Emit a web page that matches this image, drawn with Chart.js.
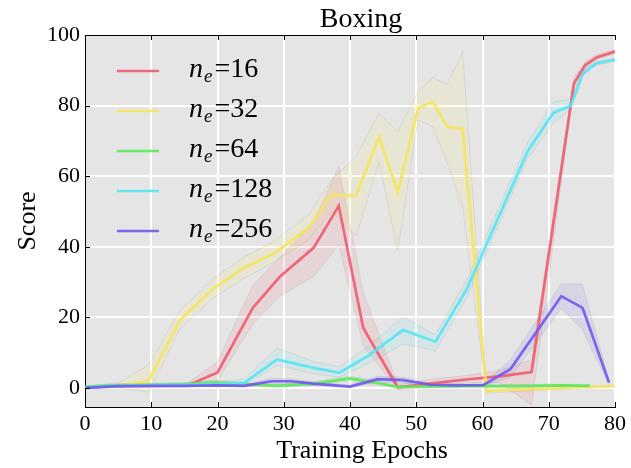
<!DOCTYPE html>
<html>
<head>
<meta charset="utf-8">
<script src="https://cdn.jsdelivr.net/npm/chart.js@4.4.0/dist/chart.umd.min.js"></script>
<style>
  html, body { margin: 0; padding: 0; background: #fff; }
  canvas { display: block; }
</style>
</head>
<body>
<canvas id="myChart" width="631" height="468"></canvas>
<script>
// n_e = 16
const epochs16 = [0, 5, 10, 15.5, 20, 25.3, 29.4, 34.5, 38.3, 42, 47.2, 52.4, 57.5, 62.5, 67.4, 73.8, 75.5, 77.3, 80];
const score16  = [0.2, 0.5, 0.6, 0.7, 4.4, 22.6, 31.5, 39.7, 51.6, 17, 0.2, 1.3, 2.4, 3.3, 4.5, 86.3, 91.5, 93.7, 95.3];
const low16    = [0, 0.2, 0.3, 0.2, 2.0, 18, 26, 31.5, 40.5, 12, -0.5, 0.5, 1.5, 1.5, -4.9, 85, 90.5, 93, 94.8];
const high16   = [0.5, 0.8, 0.9, 1.4, 7.5, 29, 37, 47, 62.7, 27, 1.0, 2.5, 3.5, 5, 8, 88, 92.5, 94.5, 95.8];

// n_e = 32
const epochs32 = [0, 5.1, 9.6, 14.4, 19.4, 23.9, 28.5, 33.7, 37.2, 40.9, 44.4, 47.2, 50.3, 52.5, 54.7, 57, 60.6, 65, 70, 75, 80];
const score32  = [0.2, 0.6, 2.0, 19.4, 28.2, 33.9, 38.1, 45.2, 54.7, 54.4, 71.2, 55.4, 79.3, 81.1, 74, 73.4, -0.9, -0.5, -0.2, 0.2, 0.5];
const low32    = [0, 0, -1.2, 17, 25.5, 31, 35.5, 42, 50, 43, 64, 39, 76, 74, 63.7, 51.3, -1.5, -1, -0.5, 0, 0.2];
const high32   = [0.5, 1.5, 6.5, 22, 31, 37, 41.5, 49, 59, 65.5, 77.8, 72.6, 84, 88, 86, 95.3, 0, 0, 0.2, 0.5, 0.8];

// n_e = 64
const epochs64 = [0, 5, 10, 15, 19.9, 23.9, 29, 34.5, 40, 44.1, 47.1, 52, 57, 62, 67, 72, 76.2];
const score64  = [0.3, 0.8, 0.9, 1.1, 1.6, 1.1, 0.6, 1.2, 2.7, 1.4, 0.3, 0.4, 0.5, 0.5, 0.6, 0.7, 0.6];
const low64    = [0, 0.4, 0.5, 0.6, 1.0, 0.6, 0.2, 0.7, 2.0, 0.8, 0, 0, 0.1, 0.1, 0.2, 0.3, 0.2];
const high64   = [0.6, 1.2, 1.3, 1.6, 2.2, 1.6, 1.0, 1.8, 3.4, 2.0, 0.7, 0.8, 0.9, 0.9, 1.0, 1.1, 1.0];

// n_e = 128
const epochs128 = [0, 5, 10, 15, 20, 24, 29, 34.5, 38.4, 42.9, 48, 52.9, 57.6, 66.8, 70.7, 73.3, 75.2, 77.2, 80];
const score128  = [0.2, 0.6, 0.8, 0.9, 1.0, 1.4, 8.1, 5.7, 4.3, 9.3, 16.4, 13.1, 27.9, 67, 78, 79.9, 89.2, 92, 93];
const low128    = [0, 0.3, 0.5, 0.5, 0.6, 0.8, 6.4, 4, 3, 7, 12.4, 10.5, 25.5, 65, 75, 79, 88.5, 91.5, 92.5];
const high128   = [0.5, 1, 1.2, 1.3, 1.5, 2.5, 11.3, 7.5, 6, 12, 20.1, 15, 30.5, 69.5, 81.1, 81.8, 90, 92.5, 93.5];

// n_e = 256
const epochs256 = [0, 5, 10, 15, 20, 24, 28.2, 31, 34.5, 40, 44.2, 48.1, 52.1, 56, 60.1, 64.2, 71.9, 75.1, 79.1];
const score256  = [0, 0.5, 0.6, 0.6, 0.7, 0.6, 1.9, 1.9, 1.2, 0.4, 2.5, 2.2, 0.9, 0.7, 0.8, 5.3, 26, 22.7, 1.5];
const low256    = [-0.3, 0.2, 0.3, 0.3, 0.4, 0.3, 1.0, 1.2, 0.7, 0, 1.6, 1.4, 0.5, 0.3, 0.4, 3, 22.5, 16.4, 1];
const high256   = [0.3, 0.8, 0.9, 0.9, 1.0, 0.9, 2.8, 2.6, 1.7, 0.8, 3.4, 3.0, 1.3, 1.1, 1.2, 8, 29.6, 29.3, 2];

const legendLabels = ['16', '32', '64', '128', '256'];
const xTicks = [0, 10, 20, 30, 40, 50, 60, 70, 80];
const yTicks = [0, 20, 40, 60, 80, 100];

const lineColors = ['rgba(240,90,110,0.9)', 'rgba(246,228,90,0.9)', 'rgba(90,234,90,0.9)', 'rgba(84,228,244,0.9)', 'rgba(112,88,240,0.9)'];
const bandColors = ['rgba(240,90,110,0.12)', 'rgba(246,228,90,0.12)', 'rgba(90,234,90,0.12)', 'rgba(84,228,244,0.12)', 'rgba(112,88,240,0.12)'];

const allSeries = [
  [epochs16, score16, low16, high16],
  [epochs32, score32, low32, high32],
  [epochs64, score64, low64, high64],
  [epochs128, score128, low128, high128],
  [epochs256, score256, low256, high256]
];

const SERIF = '"Liberation Serif", "DejaVu Serif", serif';

function pts(xs, ys) {
  return xs.map((x, i) => ({ x: x, y: ys[i] }));
}

const datasets = [];
// shaded bands first
allSeries.forEach(([xs, mean, lo, hi], i) => {
  datasets.push({
    label: 'lo' + i, data: pts(xs, lo), borderColor: 'rgba(110,110,110,0.12)',
    borderWidth: 1, pointRadius: 0, fill: false, order: 20
  });
  datasets.push({
    label: 'hi' + i, data: pts(xs, hi), borderColor: 'rgba(110,110,110,0.12)',
    borderWidth: 1, pointRadius: 0, fill: '-1', backgroundColor: bandColors[i], order: 20
  });
});
// mean lines, later series on top
allSeries.forEach(([xs, mean], i) => {
  datasets.push({
    label: 'n_e=' + legendLabels[i], data: pts(xs, mean), borderColor: lineColors[i],
    borderWidth: 2.7, pointRadius: 0, fill: false, order: 10 - i
  });
});

const decor = {
  id: 'decor',
  beforeDraw(chart) {
    const { ctx, chartArea: a } = chart;
    ctx.save();
    ctx.fillStyle = '#ffffff';
    ctx.fillRect(0, 0, chart.width, chart.height);
    ctx.fillStyle = '#e5e5e5';
    ctx.fillRect(a.left, a.top, a.right - a.left, a.bottom - a.top);
    ctx.restore();
  },
  afterDraw(chart) {
    const { ctx, chartArea: a, scales } = chart;
    ctx.save();
    // top spine
    ctx.strokeStyle = '#000';
    ctx.lineWidth = 1;
    ctx.beginPath();
    ctx.moveTo(a.left, a.top + 0.5);
    ctx.lineTo(a.right, a.top + 0.5);
    ctx.stroke();
    // inward tick marks
    ctx.beginPath();
    xTicks.forEach(v => {
      const px = Math.round(scales.x.getPixelForValue(v)) + 0.5;
      ctx.moveTo(px, a.bottom); ctx.lineTo(px, a.bottom - 5);
      ctx.moveTo(px, a.top); ctx.lineTo(px, a.top + 5);
    });
    yTicks.forEach(v => {
      const py = Math.round(scales.y.getPixelForValue(v)) + 0.5;
      ctx.moveTo(a.left, py); ctx.lineTo(a.left + 5, py);
    });
    ctx.stroke();

    // title and axis labels
    ctx.fillStyle = '#000';
    ctx.textAlign = 'center';
    ctx.textBaseline = 'alphabetic';
    ctx.font = '28px ' + SERIF;
    ctx.fillText('Boxing', 361, 27);
    ctx.font = '26px ' + SERIF;
    ctx.fillText('Training Epochs', 362, 458);
    ctx.save();
    ctx.translate(35, (a.top + a.bottom) / 2);
    ctx.rotate(-Math.PI / 2);
    ctx.fillText('Score', 0, 0);
    ctx.restore();

    // legend
    ctx.textAlign = 'left';
    legendLabels.forEach((lab, i) => {
      const y0 = 71 + 40 * i;
      ctx.strokeStyle = lineColors[i];
      ctx.lineWidth = 2.7;
      ctx.beginPath();
      ctx.moveTo(117, y0);
      ctx.lineTo(159, y0);
      ctx.stroke();
      let x = 189;
      ctx.font = 'italic 28px ' + SERIF;
      ctx.fillText('n', x, y0 + 6);
      x += ctx.measureText('n').width + 1;
      ctx.font = 'italic 19px ' + SERIF;
      ctx.fillText('e', x, y0 + 11);
      x += ctx.measureText('e').width + 2;
      ctx.font = '28px ' + SERIF;
      ctx.fillText('=' + lab, x, y0 + 6);
    });
    ctx.restore();
  }
};

const ctx = document.getElementById('myChart').getContext('2d');
window.myChart = new Chart(ctx, {
  type: 'line',
  data: { datasets: datasets },
  plugins: [decor],
  options: {
    responsive: false,
    animation: false,
    devicePixelRatio: 1,
    layout: { padding: { top: 35, right: 16, left: 0, bottom: 0 } },
    plugins: { legend: { display: false }, tooltip: { enabled: false } },
    scales: {
      x: {
        type: 'linear', min: 0, max: 80,
        afterFit: s => { s.height = 61; },
        afterBuildTicks: s => { s.ticks = xTicks.map(v => ({ value: v })); },
        grid: { color: '#ffffff', lineWidth: 2, drawTicks: false },
        border: { display: true, color: '#000', width: 1 },
        ticks: { color: '#000', padding: 4, maxRotation: 0, font: { family: SERIF, size: 22 } }
      },
      y: {
        type: 'linear', min: -5.4, max: 100,
        afterFit: s => { s.width = 85; },
        afterBuildTicks: s => { s.ticks = yTicks.map(v => ({ value: v })); },
        grid: { color: '#ffffff', lineWidth: 2, drawTicks: false },
        border: { display: true, color: '#000', width: 1 },
        ticks: { color: '#000', padding: 5, font: { family: SERIF, size: 22 } }
      }
    }
  }
});
</script>
</body>
</html>
